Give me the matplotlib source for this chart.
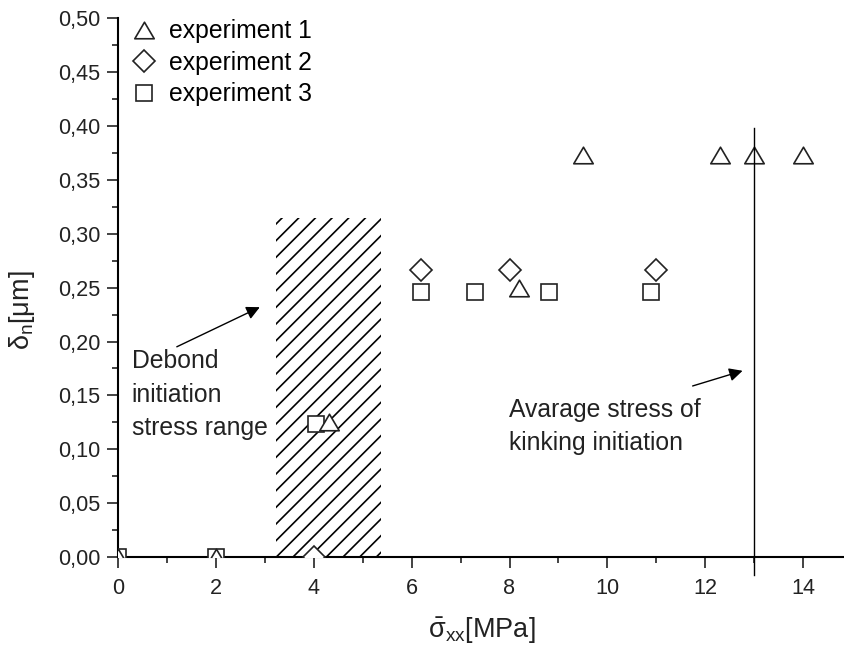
import matplotlib
matplotlib.use("Agg")
import matplotlib.pyplot as plt
from matplotlib.ticker import MultipleLocator, FuncFormatter
from matplotlib.path import Path

plt.rcParams['font.family'] = ['Liberation Sans', 'DejaVu Sans']
plt.rcParams['mathtext.fontset'] = 'custom'
plt.rcParams['mathtext.rm'] = 'Liberation Sans'
plt.rcParams['mathtext.it'] = 'Liberation Sans'
plt.rcParams['hatch.linewidth'] = 1.2

# experiment data (stress in MPa, displacement in um)
exp1_x = [0, 2, 4.3, 8.2, 9.5, 12.3, 13.0, 14.0]
exp1_y = [0, 0, 0.125, 0.25, 0.373, 0.373, 0.373, 0.373]
exp2_x = [4.0, 6.2, 8.0, 11.0]
exp2_y = [0, 0.266, 0.266, 0.266]
exp3_x = [0, 2, 4.05, 6.2, 7.3, 8.8, 10.9]
exp3_y = [0, 0, 0.123, 0.246, 0.246, 0.246, 0.246]

# debond initiation range and kinking stress
debond_x = [3.22, 5.37]
debond_top = 0.315
kink_x = 13.0
kink_y = [-0.017, 0.398]

ink = '#222222'
# a triangle a bit wider than tall, like the original
tri = Path([(-1, -0.85), (1, -0.85), (0, 0.85), (-1, -0.85)], closed=True)

fig = plt.figure(figsize=(8.45, 6.52), dpi=100)
ax = fig.add_axes([0.14, 0.1457, 0.86, 0.8262])

ax.fill_between(debond_x, 0, debond_top, facecolor='none', edgecolor='black',
                hatch='//', linewidth=0, zorder=1)

h3, = ax.plot(exp3_x, exp3_y, ls='none', marker='s', ms=11, mfc='white',
              mec=ink, mew=1.2, zorder=3, label='experiment 3')
h2, = ax.plot(exp2_x, exp2_y, ls='none', marker='D', ms=11, mfc='white',
              mec=ink, mew=1.2, zorder=3, label='experiment 2')
h1, = ax.plot(exp1_x, exp1_y, ls='none', marker=tri, ms=14, mfc='white',
              mec=ink, mew=1.2, zorder=4, label='experiment 1')

ax.plot([kink_x, kink_x], kink_y, color='black', lw=1, zorder=5, clip_on=False)

ax.annotate('', xy=(2.945, 0.233), xytext=(1.145, 0.194),
            arrowprops=dict(arrowstyle='-|>', color='black', lw=1, mutation_scale=20))
ax.annotate('', xy=(12.82, 0.1736), xytext=(11.69, 0.158),
            arrowprops=dict(arrowstyle='-|>', color='black', lw=1, mutation_scale=20))

# va='baseline' on multi-line text sits on the last line
ax.text(0.27, 0.1132, 'Debond\ninitiation\nstress range', fontsize=17.8,
        va='baseline', ha='left', linespacing=1.5, color=ink)
ax.text(7.98, 0.0993, 'Avarage stress of\nkinking initiation', fontsize=17.8,
        va='baseline', ha='left', linespacing=1.5, color=ink)

leg = ax.legend(handles=[h1, h2, h3], loc='upper left', frameon=False,
                fontsize=17.8, bbox_to_anchor=(-0.009, 1.03), handletextpad=0.4,
                labelspacing=0.3, handlelength=1.2, borderaxespad=0.3)

ax.set_xlim(0, 14.86)
ax.set_ylim(0, 0.5)
ax.spines['top'].set_visible(False)
ax.spines['right'].set_visible(False)
ax.spines['left'].set_linewidth(1.5)
ax.spines['bottom'].set_linewidth(1.5)

ax.xaxis.set_major_locator(MultipleLocator(2))
ax.xaxis.set_minor_locator(MultipleLocator(1))
ax.yaxis.set_major_locator(MultipleLocator(0.05))
ax.yaxis.set_minor_locator(MultipleLocator(0.025))
ax.yaxis.set_major_formatter(FuncFormatter(lambda v, p: '{:.2f}'.format(v).replace('.', ',')))
ax.xaxis.set_major_formatter(FuncFormatter(lambda v, p: '{:d}'.format(int(round(v)))))

ax.tick_params(which='major', direction='out', length=8, width=1.2, labelsize=15.6,
               colors=ink)
ax.tick_params(which='minor', direction='out', length=4.5, width=1.2, colors=ink)
ax.tick_params(axis='x', which='major', pad=7)
ax.tick_params(axis='y', which='major', pad=5)

ax.set_xlabel(r'$\bar{\sigma}_{xx}$[MPa]', fontsize=19.5, labelpad=12, color=ink)
ax.set_ylabel(r'$\delta_n$[μm]', fontsize=19.5, color=ink)
ax.yaxis.set_label_coords(-0.112, 0.4585)

fig.savefig('out.png', dpi=100)
